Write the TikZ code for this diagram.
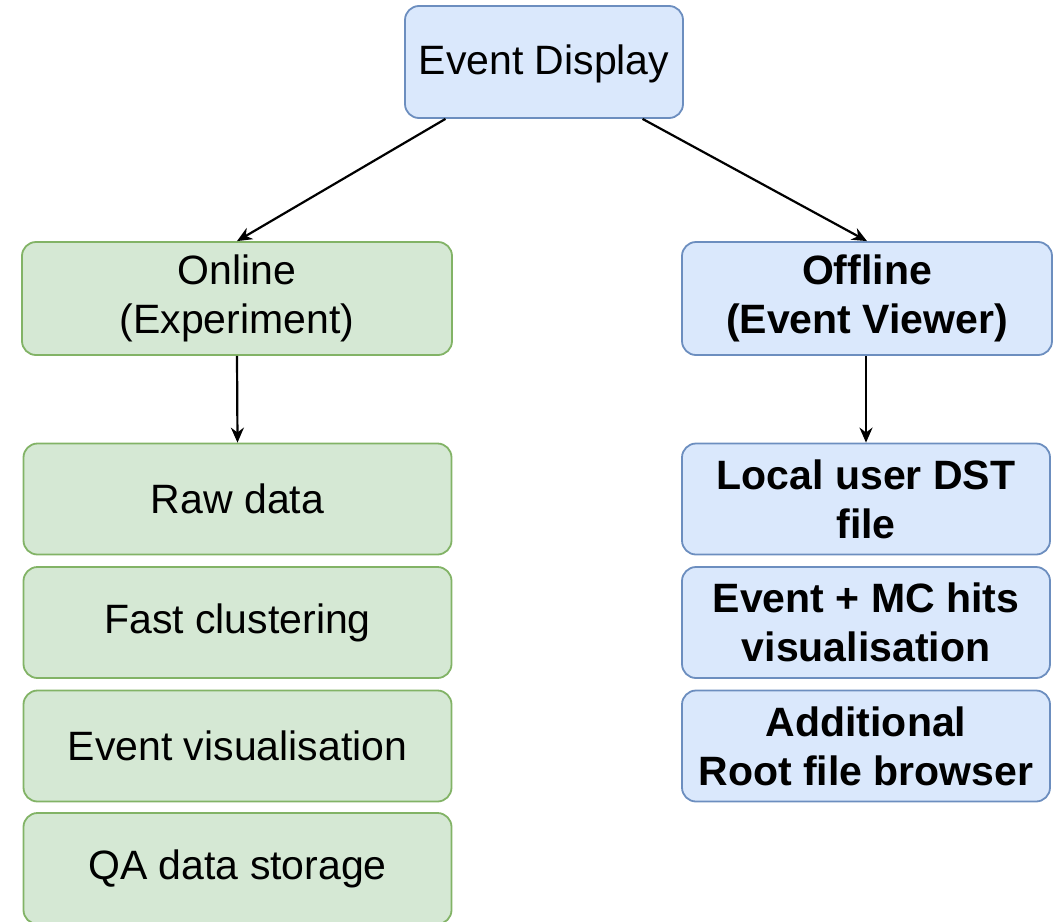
\documentclass[tikz,border=0pt]{standalone}
\usepackage{fontspec}
\setmainfont{Liberation Sans}
\usetikzlibrary{arrows.meta}

\definecolor{bluefill}{HTML}{DAE8FC}
\definecolor{bluedraw}{HTML}{6C8EBF}
\definecolor{greenfill}{HTML}{D5E8D4}
\definecolor{greendraw}{HTML}{82B366}

\begin{document}
\begin{tikzpicture}[x=1pt, y=-1pt, >={Stealth[length=15pt, width=13pt]},
	every node/.style={font=\fontsize{41}{49}\selectfont, align=center, inner sep=0pt},
	box/.style={rounded corners=14pt, line width=1.8pt},
	bluebox/.style={box, draw=bluedraw, fill=bluefill},
	greenbox/.style={box, draw=greendraw, fill=greenfill},
	link/.style={->, line width=2.2pt}]
	\useasboundingbox (0,0) rectangle (1059,921);
	% top
	\node[bluebox, minimum width=278pt, minimum height=112pt, text depth=4pt] (ed) at (544,62) {Event Display};
	% online branch
	\node[greenbox, minimum width=430pt, minimum height=113pt] (on) at (237,298.5) {Online\\(Experiment)};
	\foreach \n/\y/\t in {raw/499/Raw data, fast/622.5/Fast clustering, vis/746/Event visualisation, qa/868.5/QA data storage}
		\node[greenbox, minimum width=428pt, minimum height=111pt] (\n) at (237.5,\y) {\t};
	% offline branch
	\node[bluebox, minimum width=370pt, minimum height=113pt, font=\fontsize{41}{49}\selectfont\bfseries] (off) at (867,298.5) {Offline\\(Event Viewer)};
	\foreach \n/\y/\t in {dst/499/Local user DST\\file, mc/622.5/Event + MC hits\\visualisation, root/746/Additional\\Root file browser}
		\node[bluebox, minimum width=368pt, minimum height=111pt, font=\fontsize{41}{49}\selectfont\bfseries] (\n) at (866,\y) {\t};
	% connectors
	\draw[link] (ed.210) -- (on.north);
	\draw[link] (ed.330) -- (off.north);
	\draw[link] (on.south) -- (raw.north);
	\draw[link] (off.south -| dst.north) -- (dst.north);
\end{tikzpicture}
\end{document}
